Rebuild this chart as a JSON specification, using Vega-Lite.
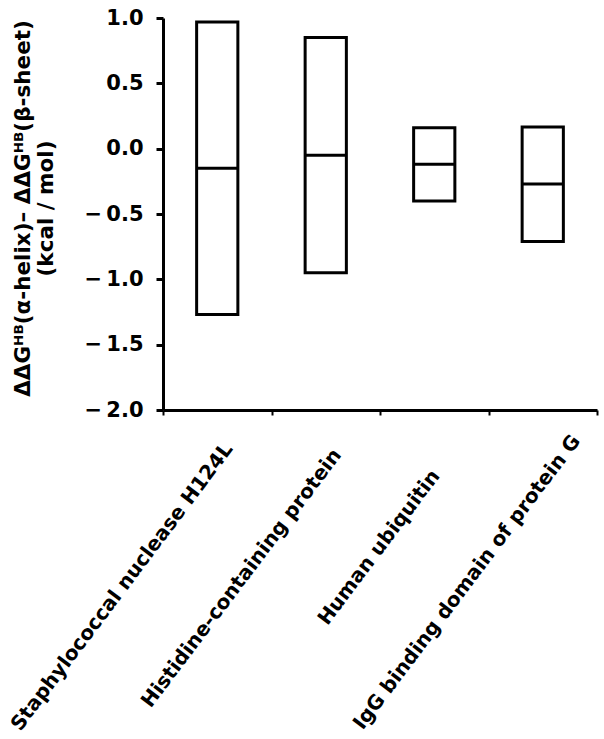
{
  "$schema": "https://vega.github.io/schema/vega-lite/v6.json",
  "autosize": {"type": "none"},
  "padding": {"left": 163, "top": 18, "right": 7, "bottom": 329},
  "width": 434,
  "height": 392,
  "background": "white",
  "config": {"view": {"stroke": null}, "font": "DejaVu Sans"},
  "data": {
    "values": [
      {"protein": "Staphylococcal nuclease H124L", "low": -1.27, "mid": -0.15, "high": 0.97},
      {"protein": "Histidine-containing protein", "low": -0.95, "mid": -0.05, "high": 0.85},
      {"protein": "Human ubiquitin", "low": -0.40, "mid": -0.12, "high": 0.16},
      {"protein": "IgG binding domain of protein G", "low": -0.71, "mid": -0.27, "high": 0.165}
    ]
  },
  "encoding": {
    "x": {
      "field": "protein",
      "type": "nominal",
      "sort": null,
      "scale": {"paddingInner": 0, "paddingOuter": 0},
      "axis": {
        "title": null,
        "domainWidth": 3,
        "domainColor": "black",
        "ticks": true,
        "tickBand": "extent",
        "tickSize": 5,
        "tickWidth": 2,
        "tickColor": "black",
        "labelAngle": -53,
        "labelAlign": "right",
        "labelBaseline": "middle",
        "labelFont": "DejaVu Sans",
        "labelFontWeight": "bold",
        "labelFontSize": 20,
        "labelColor": "black",
        "labelLimit": 0,
        "labelOverlap": false,
        "labelOffset": {
          "condition": [
            {"test": "datum.value === 'IgG binding domain of protein G'", "value": 33},
            {"test": "datum.value === 'Human ubiquitin'", "value": 1}
          ],
          "value": 11
        },
        "labelPadding": {
          "condition": [
            {"test": "datum.value === 'IgG binding domain of protein G'", "value": 22},
            {"test": "datum.value === 'Human ubiquitin'", "value": 57},
            {"test": "datum.value === 'Histidine-containing protein'", "value": 36}
          ],
          "value": 30
        }
      }
    }
  },
  "layer": [
    {
      "mark": {"type": "bar", "fill": "white", "stroke": "black", "strokeWidth": 3, "width": {"band": 0.38}},
      "encoding": {
        "y": {
          "field": "low",
          "type": "quantitative",
          "scale": {"domain": [-2, 1], "nice": false, "zero": false},
          "axis": {
            "title": ["ΔΔGᴴᴮ(α-helix)– ΔΔGᴴᴮ(β-sheet)", "(kcal / mol)"],
            "values": [-2, -1.5, -1, -0.5, 0, 0.5, 1],
            "labelExpr": "(datum.value < 0 ? '−\u2009' : '') + format(abs(datum.value), '.1f')",
            "grid": false,
            "domainWidth": 3,
            "domainColor": "black",
            "tickSize": 7,
            "tickWidth": 3,
            "tickColor": "black",
            "labelPadding": 13,
            "labelFlush": false,
            "labelOverlap": false,
            "labelFont": "DejaVu Sans",
            "labelFontWeight": "bold",
            "labelFontSize": 21,
            "labelColor": "black",
            "titleFont": "DejaVu Sans",
            "titleFontWeight": "bold",
            "titleFontSize": 21.5,
            "titleColor": "black",
            "titleX": -140,
            "titleY": 190,
            "titleAngle": -90,
            "titleAlign": "center",
            "titleBaseline": "middle",
            "titleLineHeight": 23
          }
        },
        "y2": {"field": "high"}
      }
    },
    {
      "mark": {"type": "tick", "color": "black", "thickness": 3, "size": 41, "opacity": 1},
      "encoding": {
        "y": {"field": "mid", "type": "quantitative"}
      }
    }
  ]
}
